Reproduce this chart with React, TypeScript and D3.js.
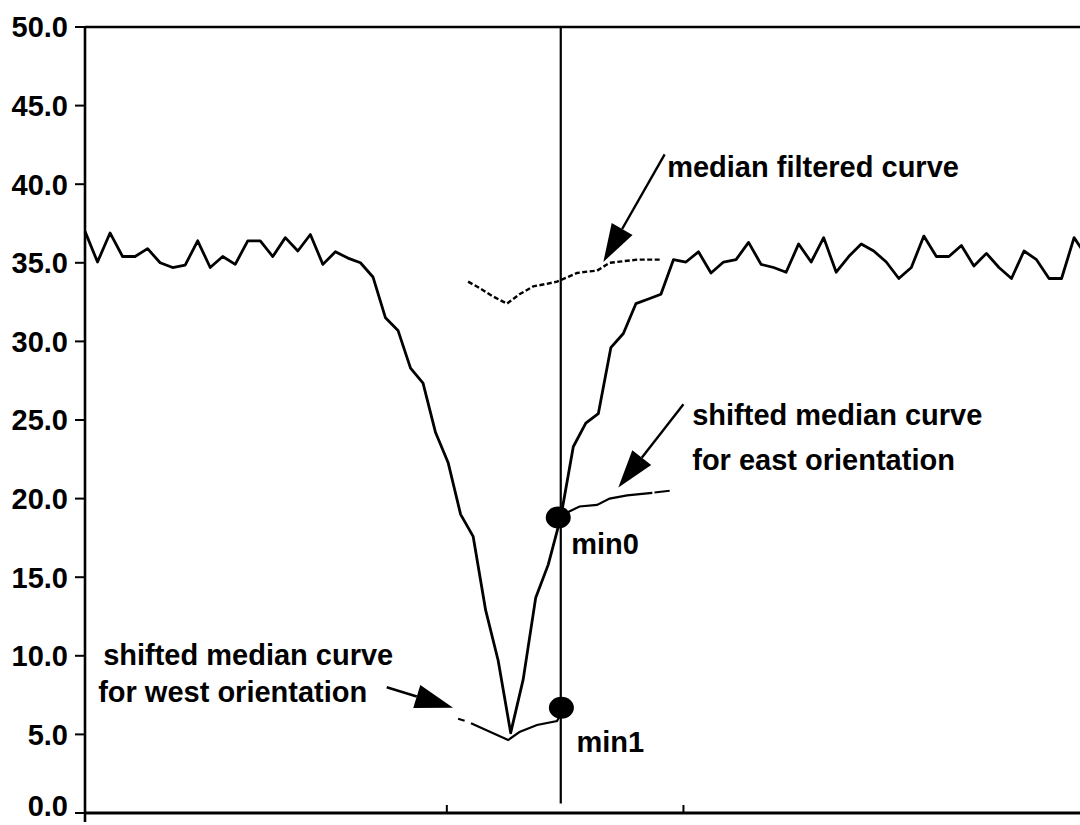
import React from 'react';
import * as d3 from 'd3';

const W = 1080;
const H = 825;

const yTicks = [0, 5, 10, 15, 20, 25, 30, 35, 40, 45, 50];
const xMinorTicks = [28.9, 47.8];

// main measured curve, one value per sample index 0..80
const mainValues = [
  37.0, 35.05, 36.9, 35.4, 35.4, 35.9, 35.0, 34.7, 34.85, 36.4,
  34.7, 35.4, 34.9, 36.4, 36.4, 35.4, 36.6, 35.75, 36.8, 34.9,
  35.7, 35.3, 35.0, 34.1, 31.5, 30.7, 28.3, 27.35, 24.2, 22.3,
  19.0, 17.6, 12.9, 9.7, 5.1, 8.5, 13.7, 15.8, 18.8, 23.3,
  24.8, 25.4, 29.6, 30.5, 32.4, 32.7, 33.0, 35.2, 35.05, 35.7,
  34.35, 35.05, 35.2, 36.3, 34.9, 34.7, 34.4, 36.2, 35.05, 36.6,
  34.4, 35.4, 36.2, 35.75, 35.05, 34.0, 34.7, 36.7, 35.4, 35.4,
  36.1, 34.8, 35.6, 34.7, 34.0, 35.75, 35.2, 34.0, 34.0, 36.6,
  35.4,
];

// median filtered curve (dashed)
const medianIdx = [30.6, 31.5, 32.5, 33.7, 34.7, 35.8, 36.8, 37.7, 38.6, 39.3, 40.2, 40.9, 41.9, 43.0, 44.1, 45.9];
const medianVal = [33.8, 33.4, 32.9, 32.4, 33.0, 33.5, 33.65, 33.8, 34.1, 34.35, 34.45, 34.5, 35.0, 35.1, 35.2, 35.2];

// shifted median curve, west orientation
const westIdx = [29.8, 30.6, 33.8, 34.7, 36.1, 37.7, 37.95];
const westVal = [6.0, 5.8, 4.64, 5.15, 5.6, 5.85, 6.2];

// shifted median curve, east orientation
const eastIdx = [38.3, 38.6, 39.5, 40.9, 41.9, 43.3, 45.1, 46.7];
const eastVal = [19.0, 19.15, 19.5, 19.6, 20.0, 20.2, 20.35, 20.5];

const cursorIdx = 38;
const minPoints = [
  { label: 'min0', idx: 37.8, val: 18.8 },
  { label: 'min1', idx: 38.05, val: 6.7 },
];

const FONT = '"Liberation Sans", Arial, Helvetica, sans-serif';

function Arrow({ tail, tip }: { tail: [number, number]; tip: [number, number] }) {
  const dx = tip[0] - tail[0];
  const dy = tip[1] - tail[1];
  const len = Math.hypot(dx, dy);
  const ux = dx / len;
  const uy = dy / len;
  const headLen = 38;
  const half = 12;
  const bx = tip[0] - ux * headLen;
  const by = tip[1] - uy * headLen;
  const px = -uy;
  const py = ux;
  const pts = [
    [tip[0], tip[1]],
    [bx + px * half, by + py * half],
    [bx - px * half, by - py * half],
  ];
  return (
    <g>
      <line x1={tail[0]} y1={tail[1]} x2={bx} y2={by} stroke="#000" strokeWidth={2.4} />
      <polygon points={pts.map((p) => p.join(',')).join(' ')} fill="#000" />
    </g>
  );
}

export default function App() {
  const x = d3.scaleLinear().domain([0, 80]).range([85, 85 + 80 * 12.52]);
  const y = d3.scaleLinear().domain([0, 50]).range([813, 27]);

  const lineIdx = d3
    .line<number>()
    .x((_, i) => x(i))
    .y((d) => y(d));
  const linePts = d3
    .line<[number, number]>()
    .x((d) => x(d[0]))
    .y((d) => y(d[1]));

  const medianPts = medianIdx.map((v, i) => [v, medianVal[i]] as [number, number]);
  const westPts = westIdx.map((v, i) => [v, westVal[i]] as [number, number]);
  const eastPts = eastIdx.map((v, i) => [v, eastVal[i]] as [number, number]);

  const textStyle: React.CSSProperties = { fontFamily: FONT, fontWeight: 'bold', fontSize: 29 };

  return (
    <svg
      width={W}
      height={H}
      viewBox={`0 0 ${W} ${H}`}
      style={{ position: 'absolute', left: 0, top: 0, background: '#fff' }}
    >
      <rect x={0} y={0} width={W} height={H} fill="#fff" />
      {/* frame */}
      <line x1={x(0)} y1={y(50)} x2={W} y2={y(50)} stroke="#000" strokeWidth={2.6} />
      <line x1={x(0)} y1={y(50)} x2={x(0)} y2={822} stroke="#000" strokeWidth={2.6} />
      <line x1={x(0)} y1={y(0)} x2={W} y2={y(0)} stroke="#000" strokeWidth={3.2} />
      {xMinorTicks.map((t) => (
        <line key={t} x1={x(t)} x2={x(t)} y1={y(0)} y2={y(0) - 8} stroke="#000" strokeWidth={2} />
      ))}
      {yTicks.map((t) => (
        <g key={t}>
          <line x1={x(0) - 10} x2={x(0)} y1={y(t)} y2={y(t)} stroke="#000" strokeWidth={2} />
          <text
            x={x(0) - 17}
            y={t === 0 ? y(t) - 7 : y(t)}
            dy="0.36em"
            textAnchor="end"
            style={{ fontFamily: FONT, fontWeight: 'bold', fontSize: 29 }}
          >
            {t.toFixed(1)}
          </text>
        </g>
      ))}

      {/* cursor line */}
      <line x1={x(cursorIdx)} x2={x(cursorIdx)} y1={y(50)} y2={y(0.6)} stroke="#000" strokeWidth={2.2} />

      {/* main curve */}
      <path d={lineIdx(mainValues) || ''} fill="none" stroke="#000" strokeWidth={2.8} strokeLinejoin="round" />

      {/* median filtered curve */}
      <path d={linePts(medianPts) || ''} fill="none" stroke="#000" strokeWidth={2.4} strokeDasharray="5 2.5" />

      {/* shifted curves */}
      <path d={linePts(westPts) || ''} fill="none" stroke="#000" strokeWidth={2.2} pathLength={100} strokeDasharray="6 6 88" />
      <path d={linePts(eastPts) || ''} fill="none" stroke="#000" strokeWidth={2.2} pathLength={100} strokeDasharray="84 2 14" />

      {/* min points */}
      {minPoints.map((m) => (
        <ellipse key={m.label} cx={x(m.idx)} cy={y(m.val)} rx={12.5} ry={11} fill="#000" />
      ))}
      <text x={x(37.8) + 13} y={y(16.5)} style={textStyle}>min0</text>
      <text x={x(38.05) + 15} y={y(3.9)} style={textStyle}>min1</text>

      {/* annotations */}
      <Arrow tail={[x(46.3), y(41.9)]} tip={[x(41.4), y(35.05)]} />
      <text x={x(46.5)} y={y(40.45)} style={textStyle}>median filtered curve</text>

      <Arrow tail={[x(47.8), y(26.0)]} tip={[x(42.6), y(20.7)]} />
      <text x={x(48.5)} y={y(24.7)} style={textStyle}>shifted median curve</text>
      <text x={x(48.5)} y={y(21.8)} style={textStyle}>for east orientation</text>

      <Arrow tail={[x(24.1), y(8.0)]} tip={[x(29.4), y(6.7)]} />
      <text x={x(1.45)} y={y(9.4)} style={textStyle}>shifted median curve</text>
      <text x={x(1.05)} y={y(7.05)} style={textStyle}>for west orientation</text>
    </svg>
  );
}
